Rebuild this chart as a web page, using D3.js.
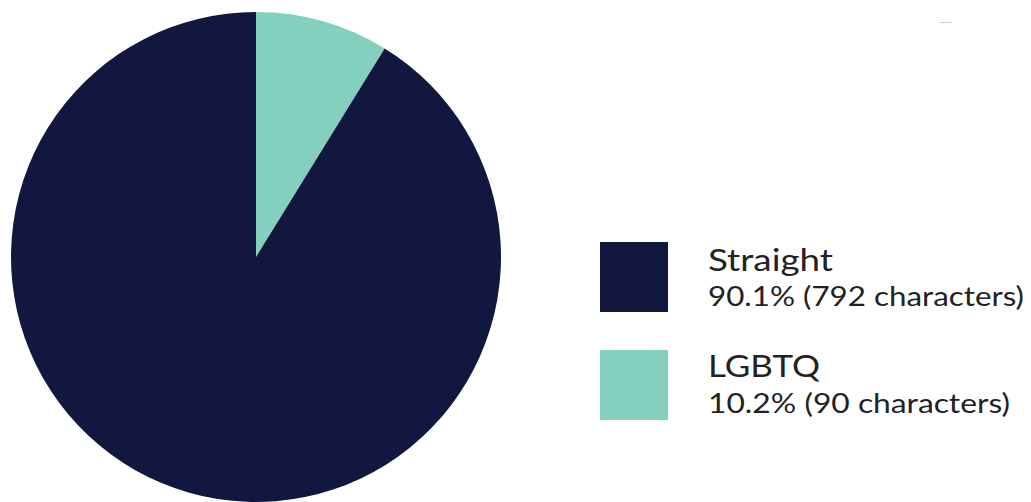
<!DOCTYPE html>
<html><head><meta charset="utf-8">
<script src="https://cdn.jsdelivr.net/npm/d3@7"></script>
<style>body{margin:0;background:#fff}svg{display:block}</style>
</head><body>
<svg id="c" width="1031" height="502"></svg>
<script>
const categories = ["Straight", "LGBTQ"];
const sliceShares = [91.2, 8.8];
const legendLabels = ["90.1% (792 characters)", "10.2% (90 characters)"];
const colors = ["#11173f", "#84cfbe"];

const svg = d3.select("#c");
const cx = 256, cy = 257, r = 245;
const arcs = d3.pie().sort(null)(sliceShares.slice().reverse());
const arc = d3.arc().innerRadius(0).outerRadius(r);
svg.append("g").attr("transform", `translate(${cx},${cy})`)
  .selectAll("path").data(arcs).join("path")
  .attr("d", arc)
  .attr("fill", (d,i) => colors.slice().reverse()[i]);

svg.append("line").attr("x1",940).attr("x2",952).attr("y1",22.5).attr("y2",22.5)
  .attr("stroke","#d0d0d0").attr("stroke-width",1);

const titleY = [271, 377], subY = [306, 413];
const titleW = [125, 112], subW = [316, 302];
const rectY = [242, 350];
const lg = svg.append("g");
const rows = lg.selectAll("g").data(categories).join("g");
rows.append("rect").attr("x",600).attr("y",(d,i)=>rectY[i]).attr("width",68).attr("height",70).attr("fill",(d,i)=>colors[i]);
rows.append("text").attr("x",708).attr("y",(d,i)=>titleY[i]).text(d=>d)
  .attr("font-family","Lato, 'Open Sans', sans-serif").attr("font-size",31)
  .attr("textLength",(d,i)=>titleW[i]).attr("lengthAdjust","spacingAndGlyphs")
  .attr("fill","#222");
rows.append("text").attr("x",708).attr("y",(d,i)=>subY[i]).text((d,i)=>legendLabels[i])
  .attr("font-family","Lato, 'Open Sans', sans-serif").attr("font-size",26)
  .attr("textLength",(d,i)=>subW[i]).attr("lengthAdjust","spacingAndGlyphs")
  .attr("fill","#222");
</script>
</body></html>
